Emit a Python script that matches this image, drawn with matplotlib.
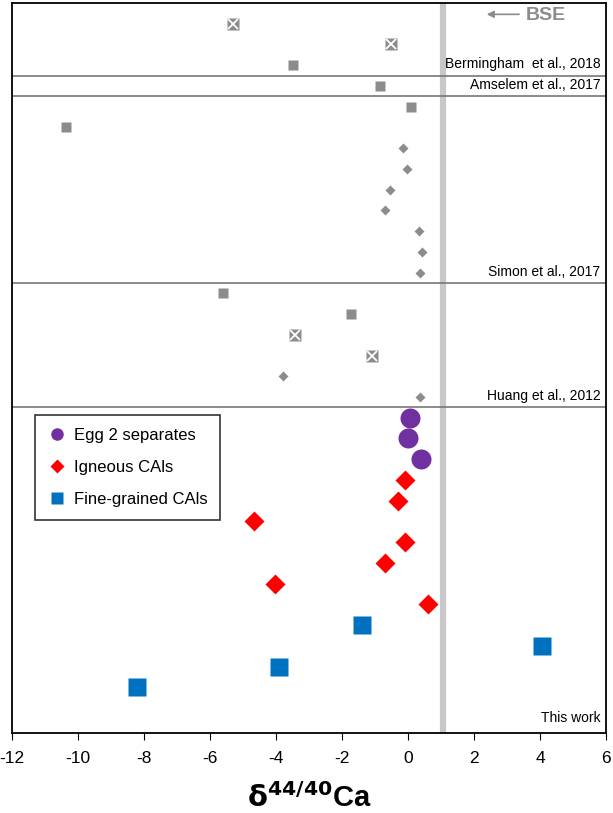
import matplotlib
matplotlib.use("Agg")
import matplotlib.pyplot as plt
from matplotlib.lines import Line2D

plt.rcParams['font.family'] = ['Liberation Sans Narrow', 'Liberation Sans', 'DejaVu Sans']
plt.rcParams['axes.unicode_minus'] = False

# literature data, in plotting order from top to bottom
# kind: 's' = square, 'x' = crossed square, 'd' = diamond
refs = ['Bermingham  et al., 2018', 'Amselem et al., 2017', 'Simon et al., 2017', 'Huang et al., 2012']
berm_vals = [-5.3, -0.52, -3.5]
berm_kind = ['x', 'x', 's']
amsel_vals = [-0.85]
amsel_kind = ['s']
simon_vals = [0.1, -10.35, -0.15, -0.03, -0.55, -0.7, 0.33, 0.42, 0.36]
simon_kind = ['s', 's', 'd', 'd', 'd', 'd', 'd', 'd', 'd']
huang_vals = [-5.6, -1.73, -3.42, -1.1, -3.8, 0.36]
huang_kind = ['s', 's', 'x', 'x', 'd', 'd']

# this work
egg_vals = [0.06, 0.0, 0.4]
igneous_vals = [-0.1, -0.3, -4.67, -0.1, -0.7, -4.03, 0.6]
fine_vals = [-1.4, 4.07, -3.9, -8.2]

bse = 1.05
gray = '#8c8c8c'

fig = plt.figure(figsize=(6.13, 8.13), dpi=100)
ax = fig.add_axes([0.0196, 0.0984, 0.969, 0.898])

row = 1
lit = [(berm_vals, berm_kind), (amsel_vals, amsel_kind), (simon_vals, simon_kind), (huang_vals, huang_kind)]
for name, (vals, kinds) in zip(refs, lit):
    for v, k in zip(vals, kinds):
        if k == 's':
            ax.plot(v, row, 's', ms=6.5, color=gray, mec='none', zorder=3)
        elif k == 'x':
            ax.plot(v, row, 's', ms=8, color=gray, mec='none', zorder=3)
            ax.plot(v, row, 'x', ms=7, color='white', mew=1.3, zorder=4)
        else:
            ax.plot(v, row, 'D', ms=5.6, color=gray, mec='none', zorder=3)
        row += 1
    ax.text(5.83, row - 1.05, name, ha='right', va='center', fontsize=10)
    ax.axhline(row - 0.5, color='#777777', lw=1.2, zorder=2)

for v in egg_vals:
    ax.plot(v, row, 'o', ms=14.4, color='#7030a0', mec='none', zorder=3)
    row += 1
for v in igneous_vals:
    ax.plot(v, row, 'D', ms=9.7, color='#ff0000', mec='none', zorder=3)
    row += 1
for v in fine_vals:
    ax.plot(v, row, 's', ms=13, color='#0070c0', mec='none', zorder=3)
    row += 1

ax.text(5.83, 34.5, 'This work', ha='right', va='center', fontsize=10)

# BSE reference line
ax.axvline(bse, color='#c8c8c8', lw=4.5, zorder=1)
ax.annotate('', xy=(2.3, 0.55), xytext=(3.45, 0.55),
            arrowprops=dict(arrowstyle='-|>', color=gray, lw=1.2, mutation_scale=10))
ax.text(3.58, 0.6, 'BSE', color=gray, fontsize=14, fontweight='bold', va='center', ha='left')

ax.set_xlim(-12, 6)
ax.set_ylim(35.2, 0)
ax.set_xticks(range(-12, 7, 2))
ax.set_yticks([])
ax.tick_params(axis='x', labelsize=12.5, length=5, direction='out', pad=8)
for s in ax.spines.values():
    s.set_linewidth(1.3)
ax.set_xlabel(r'$\mathbf{\delta}^{\mathbf{44/40}}$Ca', fontsize=21, fontweight='bold', labelpad=12)

handles = [
    Line2D([], [], marker='o', ls='none', color='#7030a0', mec='none', ms=9),
    Line2D([], [], marker='D', ls='none', color='#ff0000', mec='none', ms=7.5),
    Line2D([], [], marker='s', ls='none', color='#0070c0', mec='none', ms=8),
]
leg = ax.legend(handles, ['Egg 2 separates', 'Igneous CAls', 'Fine-grained CAls'],
                loc='upper left', bbox_to_anchor=(0.039, 0.4356), borderaxespad=0,
                fontsize=12, frameon=True, fancybox=False, edgecolor='black',
                handlelength=1.0, handletextpad=0.5, borderpad=0.8, labelspacing=1.0)
leg.get_frame().set_linewidth(1.2)

fig.savefig('out.png', dpi=100)
